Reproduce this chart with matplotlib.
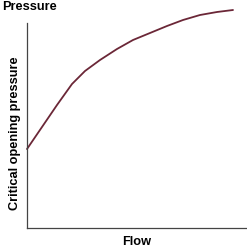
import matplotlib
matplotlib.use("Agg")
import matplotlib.pyplot as plt

# curve (arbitrary units)
flow = [0, 15, 30, 45, 58, 73, 90, 106, 123, 140, 156, 173, 190, 206]
pressure = [79, 101, 123, 144, 157, 168, 179, 188, 195, 202, 208, 213, 216, 218]

plt.rcParams['font.family'] = ['Liberation Sans', 'DejaVu Sans']

fig = plt.figure(figsize=(2.47, 2.5), dpi=100)
ax = fig.add_axes([27 / 247, 22 / 250, 220 / 247, 223 / 250])

ax.plot(flow, pressure, color='#6b2737', linewidth=1.3, solid_capstyle='round',
        solid_joinstyle='round', clip_on=False)

ax.set_xlim(0, 220)
ax.set_ylim(0, 223)
ax.set_xticks([])
ax.set_yticks([])
ax.spines['top'].set_visible(False)
ax.spines['right'].set_visible(False)
ax.spines['left'].set_bounds(0, 205)
for side in ('left', 'bottom'):
    ax.spines[side].set_color('#444444')
    ax.spines[side].set_linewidth(0.9)

fig.text(2 / 247, 1 - 7 / 250, 'Pressure', fontsize=9.2, fontweight='bold',
         ha='left', va='center')
fig.text(137 / 247, 1 - 242 / 250, 'Flow', fontsize=9.2, fontweight='bold',
         ha='center', va='center')
fig.text(15 / 247, 1 - 133 / 250, 'Critical opening pressure', fontsize=9.2,
         fontweight='bold', rotation=90, ha='center', va='center')

fig.savefig('out.png', dpi=100)
